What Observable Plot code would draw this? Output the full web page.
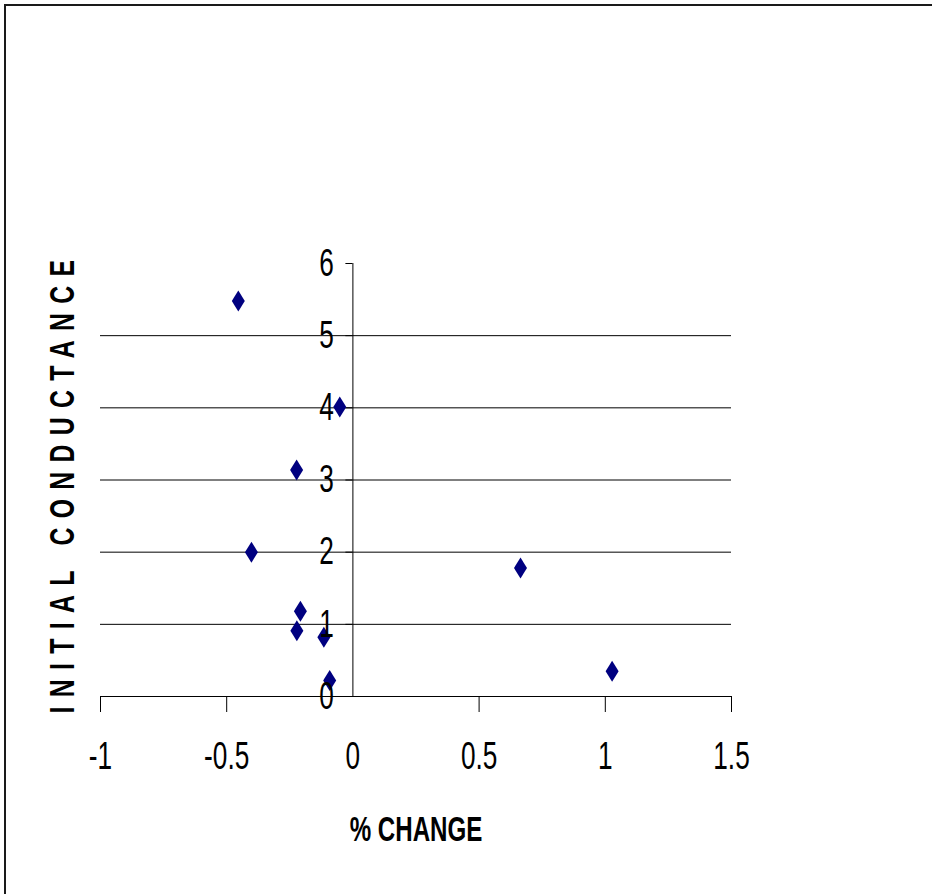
<!DOCTYPE html>
<html>
<head>
<meta charset="utf-8">
<script src="https://cdn.jsdelivr.net/npm/d3@7"></script>
<script src="https://cdn.jsdelivr.net/npm/@observablehq/plot@0.6"></script>
<style>
  html, body { margin: 0; padding: 0; background: #fff; overflow: hidden; }
  #chart { position: absolute; left: 0; top: 0; }
  #frame {
    position: absolute; left: 4px; top: 4px; width: 1200px; height: 1200px;
    border: 2px solid #1a1a1a; pointer-events: none; background: transparent;
  }
</style>
</head>
<body>
<div id="chart"></div>
<div id="frame"></div>
<script>
// Percent change vs. initial conductance, one diamond per sample
const pctChange   = [-0.454, -0.052, -0.223, -0.402, -0.208, -0.222, -0.115, -0.092, 0.664, 1.027];
const conductance = [5.48, 4.01, 3.14, 2.0, 1.18, 0.91, 0.82, 0.22, 1.78, 0.35];

// Axis ticks and their labels
const xTicks = [-1, -0.5, 0, 0.5, 1, 1.5];
const xTickLabels = ["-1", "-0.5", "0", "0.5", "1", "1.5"];
const yTicks = [0, 1, 2, 3, 4, 5, 6];
const yTickLabels = ["0", "1", "2", "3", "4", "5", "6"];
const gridY = [1, 2, 3, 4, 5];

const xTitle = "% CHANGE";
const yTitle = "INITIAL CONDUCTANCE";

const points = pctChange.map((x, i) => ({x, y: conductance[i]}));

// Tall, narrow diamond marker
const tallDiamond = {
  draw(context, size) {
    const r = Math.sqrt(size / Math.PI);
    const w = r * 0.62;
    context.moveTo(0, -r);
    context.lineTo(w, 0);
    context.lineTo(0, r);
    context.lineTo(-w, 0);
    context.closePath();
  }
};

const chart = Plot.plot({
  width: 932,
  height: 894,
  marginLeft: 100,
  marginRight: 201,
  marginTop: 263,
  marginBottom: 198,
  x: {domain: [-1, 1.5], axis: null},
  y: {domain: [0, 6], axis: null},
  style: {fontFamily: "'Liberation Sans', Arial, sans-serif", background: "transparent", color: "#000"},
  marks: [
    Plot.ruleY(gridY, {stroke: "#000", strokeWidth: 1}),
    Plot.ruleY([0], {stroke: "#000"}),
    Plot.ruleX([0], {y1: 0, y2: 6, stroke: "#000"}),
    // y-axis tick marks pointing left
    Plot.ruleY(yTicks, {y: d => d, x1: 0, x2: 0, insetLeft: -7, stroke: "#000"}),
    // x-axis tick marks pointing down
    Plot.ruleX(xTicks.filter(d => d !== 0), {x: d => d, y1: 0, y2: 0, insetBottom: -16, stroke: "#000"}),
    Plot.dot(points, {x: "x", y: "y", r: 10.5, symbol: tallDiamond, fill: "#000080", stroke: "none"}),
    Plot.text(yTicks, {x: 0, y: d => d, text: (d, i) => yTickLabels[i], textAnchor: "end", dx: -19, fontSize: 38}),
    Plot.text(xTicks, {x: d => d, y: 0, text: (d, i) => xTickLabels[i], lineAnchor: "top", dy: 46, fontSize: 38}),
    Plot.text([xTitle], {frameAnchor: "bottom", lineAnchor: "bottom", dy: 144, fontSize: 35, fontWeight: "bold"}),
    Plot.text([yTitle], {frameAnchor: "left", textAnchor: "middle", lineAnchor: "middle", rotate: -90, dx: -38, dy: 2, fontSize: 36, fontWeight: "bold"})
  ]
});

// Condensed lettering: squeeze every label along its own baseline
d3.select(chart).selectAll("text").each(function() {
  const t = this.getAttribute("transform") || "";
  this.setAttribute("transform", (t + " scale(0.69,1)").trim());
  if (this.textContent === yTitle) this.style.letterSpacing = "13.5px";
});

document.getElementById("chart").appendChild(chart);
</script>
</body>
</html>
